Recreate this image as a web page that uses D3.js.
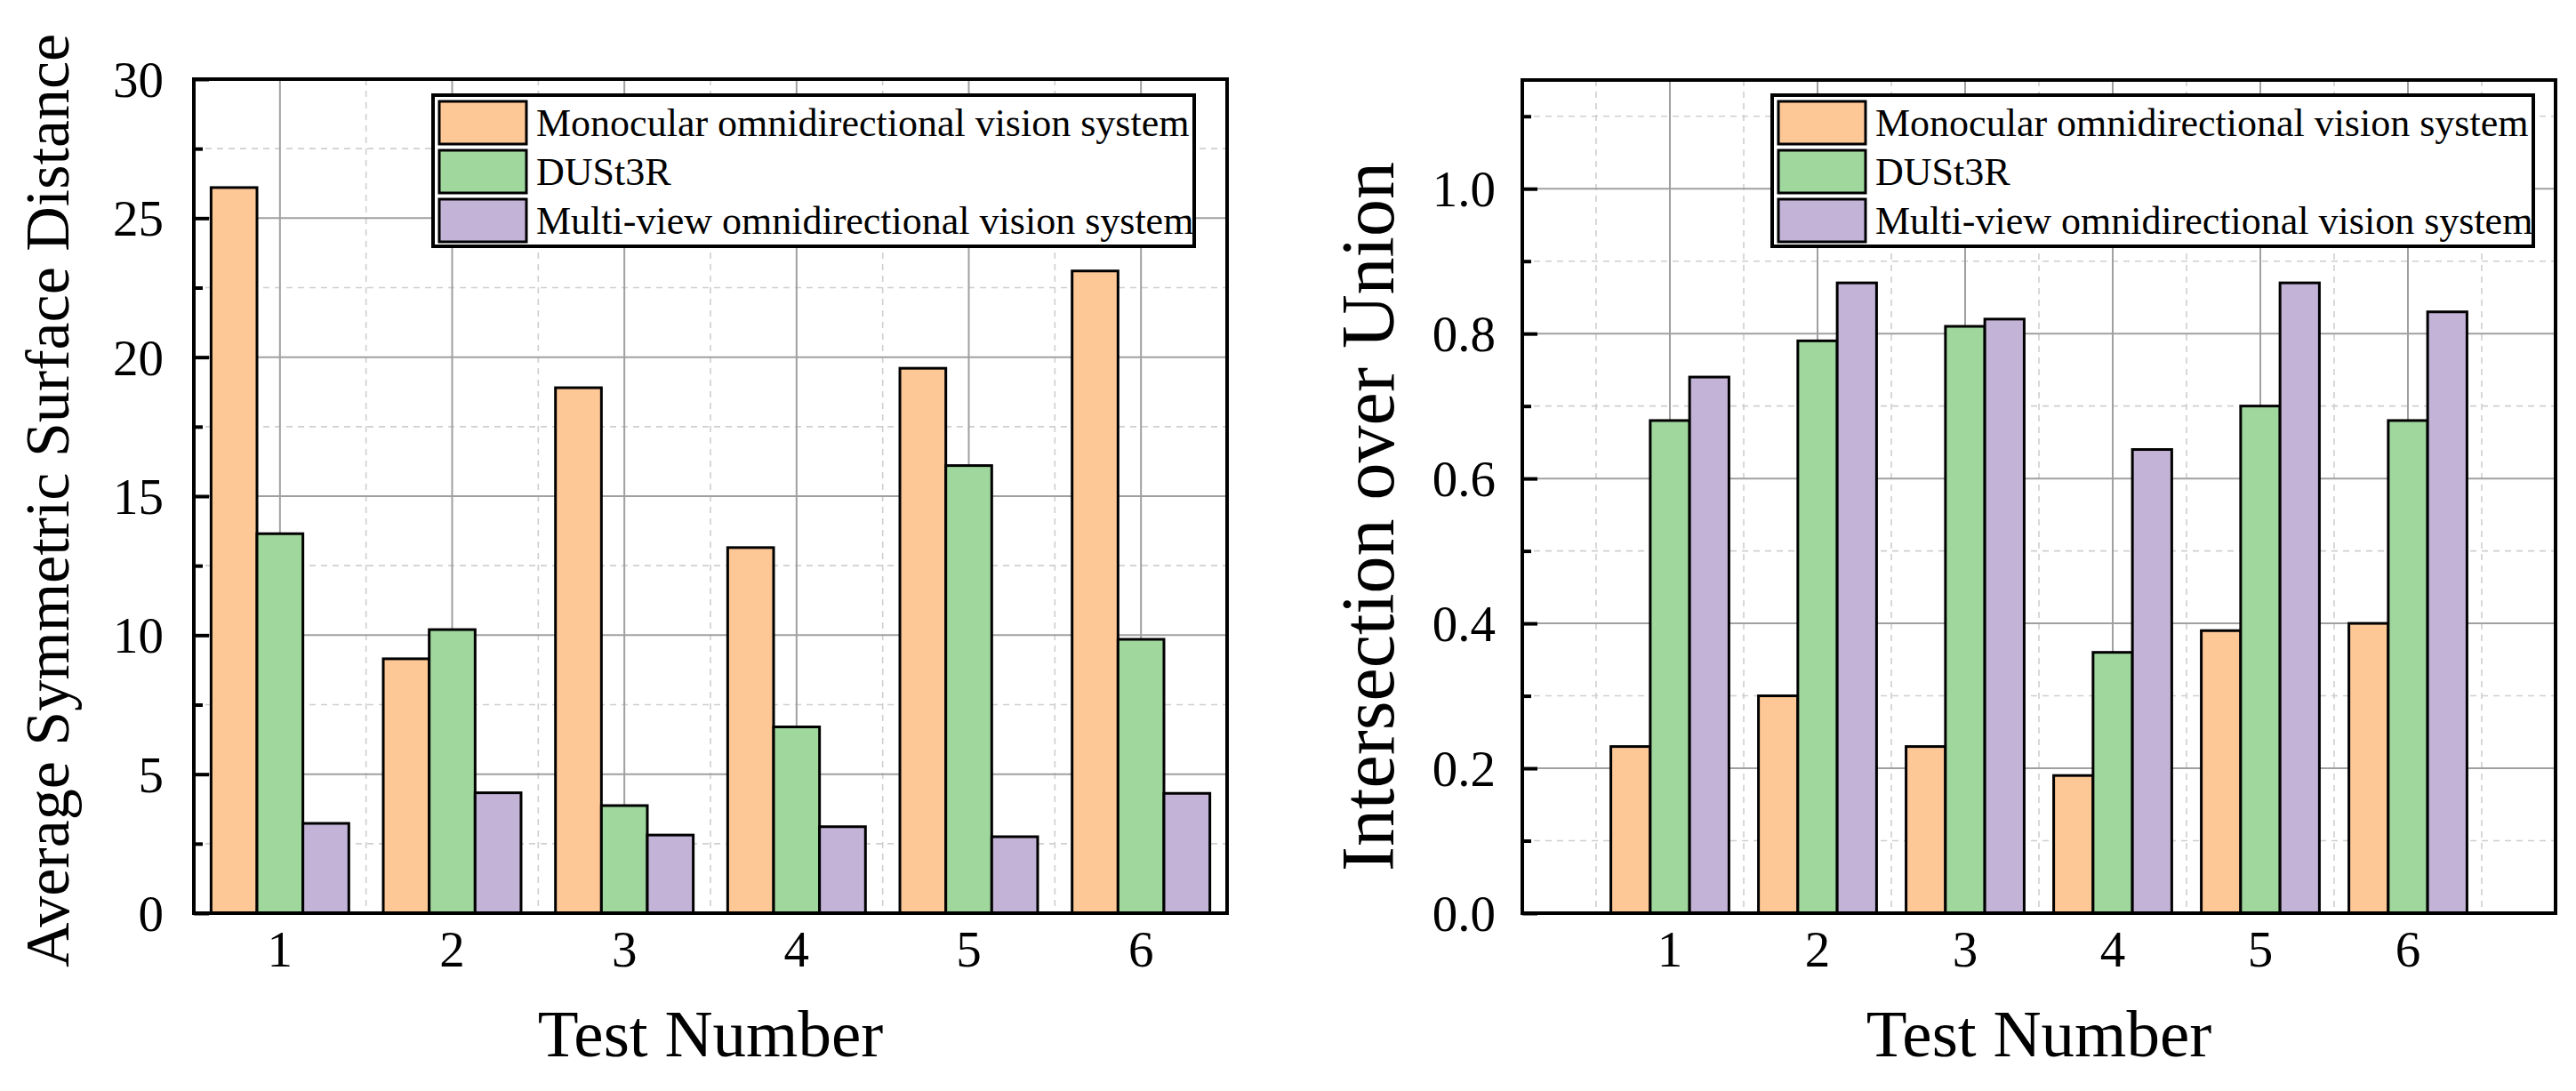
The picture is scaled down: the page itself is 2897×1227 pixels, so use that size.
<!DOCTYPE html>
<html>
<head>
<meta charset="utf-8">
<script src="https://cdn.jsdelivr.net/npm/d3@7"></script>
<style>
  body { margin: 0; background: #fff; }
  svg { display: block; }
  text { font-family: "Liberation Serif", "Times New Roman", serif; fill: #000; }
</style>
</head>
<body>
<script>
// test cases on the x axis
var tests = [1, 2, 3, 4, 5, 6];
var seriesNames = [
  "Monocular omnidirectional vision system",
  "DUSt3R",
  "Multi-view omnidirectional vision system"
];
var seriesColors = ["#fec796", "#9fd79d", "#c2b3d7"];

// left panel: average symmetric surface distance
var assdMono  = [26.1, 9.15, 18.9, 13.15, 19.6, 23.1];
var assdDust  = [13.65, 10.2, 3.87, 6.7, 16.1, 9.85];
var assdMulti = [3.23, 4.33, 2.81, 3.11, 2.75, 4.31];
var assdTicks = [0, 5, 10, 15, 20, 25, 30];
var assdMinor = [2.5, 7.5, 12.5, 17.5, 22.5, 27.5];

// right panel: intersection over union
var iouMono  = [0.23, 0.30, 0.23, 0.19, 0.39, 0.40];
var iouDust  = [0.68, 0.79, 0.81, 0.36, 0.70, 0.68];
var iouMulti = [0.74, 0.87, 0.82, 0.64, 0.87, 0.83];
var iouTicks = [0, 0.2, 0.4, 0.6, 0.8, 1.0];
var iouMinor = [0.1, 0.3, 0.5, 0.7, 0.9, 1.1];

var W = 2897, H = 1227;

var svg = d3.select("body").append("svg")
    .attr("width", W)
    .attr("height", H);

function drawPanel(cfg) {
  var x = d3.scaleLinear().domain(cfg.xDomain).range([cfg.left, cfg.right]);
  var y = d3.scaleLinear().domain(cfg.yDomain).range([cfg.bottom, cfg.top]);
  var inner = d3.scaleBand().domain(d3.range(seriesNames.length)).range([-0.4, 0.4]);

  var g = svg.append("g");

  // grid lines, minor dashed first, then major solid
  var grid = g.append("g");
  grid.selectAll(".vminor")
      .data(cfg.xMinor)
    .enter().append("line")
      .attr("x1", d => x(d)).attr("x2", d => x(d))
      .attr("y1", cfg.top).attr("y2", cfg.bottom)
      .attr("stroke", "#cfcfcf").attr("stroke-width", 1.6)
      .attr("stroke-dasharray", "7,6");
  grid.selectAll(".hminor")
      .data(cfg.yMinor)
    .enter().append("line")
      .attr("x1", cfg.left).attr("x2", cfg.right)
      .attr("y1", d => y(d)).attr("y2", d => y(d))
      .attr("stroke", "#cfcfcf").attr("stroke-width", 1.6)
      .attr("stroke-dasharray", "7,6");
  grid.selectAll(".vmajor")
      .data(tests)
    .enter().append("line")
      .attr("x1", d => x(d)).attr("x2", d => x(d))
      .attr("y1", cfg.top).attr("y2", cfg.bottom)
      .attr("stroke", "#a0a0a0").attr("stroke-width", 2);
  grid.selectAll(".hmajor")
      .data(cfg.yTicks.filter(d => d > 0))
    .enter().append("line")
      .attr("x1", cfg.left).attr("x2", cfg.right)
      .attr("y1", d => y(d)).attr("y2", d => y(d))
      .attr("stroke", "#a0a0a0").attr("stroke-width", 2);

  // bars
  cfg.values.forEach(function(vals, si) {
    g.selectAll(".bar" + si)
        .data(vals)
      .enter().append("rect")
        .attr("x", (d, i) => x(tests[i] + inner(si)))
        .attr("width", x(inner.bandwidth()) - x(0))
        .attr("y", d => y(d))
        .attr("height", d => y(0) - y(d))
        .attr("fill", seriesColors[si])
        .attr("stroke", "#000")
        .attr("stroke-width", 3);
  });

  // frame
  g.append("rect")
      .attr("x", cfg.left).attr("y", cfg.top)
      .attr("width", cfg.right - cfg.left)
      .attr("height", cfg.bottom - cfg.top)
      .attr("fill", "none")
      .attr("stroke", "#000")
      .attr("stroke-width", 4);

  // y axis, ticks pointing inward
  var yAxis = d3.axisLeft(y)
      .tickValues(cfg.yTicks)
      .tickSize(-17)
      .tickPadding(cfg.tickPad)
      .tickFormat(cfg.fmt);
  var ya = g.append("g")
      .attr("transform", "translate(" + cfg.left + ",0)")
      .call(yAxis);
  ya.select(".domain").remove();
  ya.selectAll(".tick line").attr("stroke", "#000").attr("stroke-width", 4);
  ya.selectAll(".tick text")
      .style("font-family", "'Liberation Serif', 'Times New Roman', serif")
      .style("font-size", "57px")
      .attr("dy", "0.34em");

  var yMinorAxis = d3.axisLeft(y)
      .tickValues(cfg.yMinor)
      .tickSize(-10)
      .tickFormat("");
  var ym = g.append("g")
      .attr("transform", "translate(" + cfg.left + ",0)")
      .call(yMinorAxis);
  ym.select(".domain").remove();
  ym.selectAll(".tick line").attr("stroke", "#000").attr("stroke-width", 4);

  // x tick labels
  g.selectAll(".xlab")
      .data(tests)
    .enter().append("text")
      .attr("x", d => x(d))
      .attr("y", 1087)
      .attr("text-anchor", "middle")
      .style("font-size", "57px")
      .text(d => d);

  // axis titles
  g.append("text")
      .attr("x", (cfg.left + cfg.right) / 2)
      .attr("y", 1188)
      .attr("text-anchor", "middle")
      .style("font-size", "75px")
      .text("Test Number");

  g.append("text")
      .attr("transform", "translate(" + cfg.yTitleX + "," + cfg.yTitleY + ") rotate(-90)")
      .attr("text-anchor", "middle")
      .style("font-size", cfg.yTitleSize + "px")
      .text(cfg.yTitle);

  // legend
  var lg = g.append("g")
      .attr("transform", "translate(" + cfg.legendX + ",107)");
  lg.append("rect")
      .attr("width", 856).attr("height", 170)
      .attr("fill", "#fff")
      .attr("stroke", "#000")
      .attr("stroke-width", 4);
  seriesNames.forEach(function(name, si) {
    var row = lg.append("g").attr("transform", "translate(0," + (7 + si * 55) + ")");
    row.append("rect")
        .attr("x", 7).attr("y", 0)
        .attr("width", 98).attr("height", 48)
        .attr("fill", seriesColors[si])
        .attr("stroke", "#000")
        .attr("stroke-width", 3);
    row.append("text")
        .attr("x", 116)
        .attr("y", 39)
        .style("font-size", "44px")
        .text(name);
  });
}

drawPanel({
  left: 218, right: 1380, top: 89, bottom: 1027,
  xDomain: [0.5, 6.5], yDomain: [0, 30],
  xMinor: [1.5, 2.5, 3.5, 4.5, 5.5],
  yTicks: assdTicks, yMinor: assdMinor,
  fmt: d3.format("d"), tickPad: 34,
  values: [assdMono, assdDust, assdMulti],
  yTitle: "Average Symmetric Surface Distance",
  yTitleX: 77, yTitleY: 563, yTitleSize: 70,
  legendX: 487
});

drawPanel({
  left: 1712, right: 2874, top: 90, bottom: 1027,
  xDomain: [0, 7], yDomain: [0, 1.15],
  xMinor: [0.5, 1.5, 2.5, 3.5, 4.5, 5.5, 6.5],
  yTicks: iouTicks, yMinor: iouMinor,
  fmt: d3.format(".1f"), tickPad: 30,
  values: [iouMono, iouDust, iouMulti],
  yTitle: "Intersection over Union",
  yTitleX: 1567, yTitleY: 581, yTitleSize: 84,
  legendX: 1993
});
</script>
</body>
</html>
